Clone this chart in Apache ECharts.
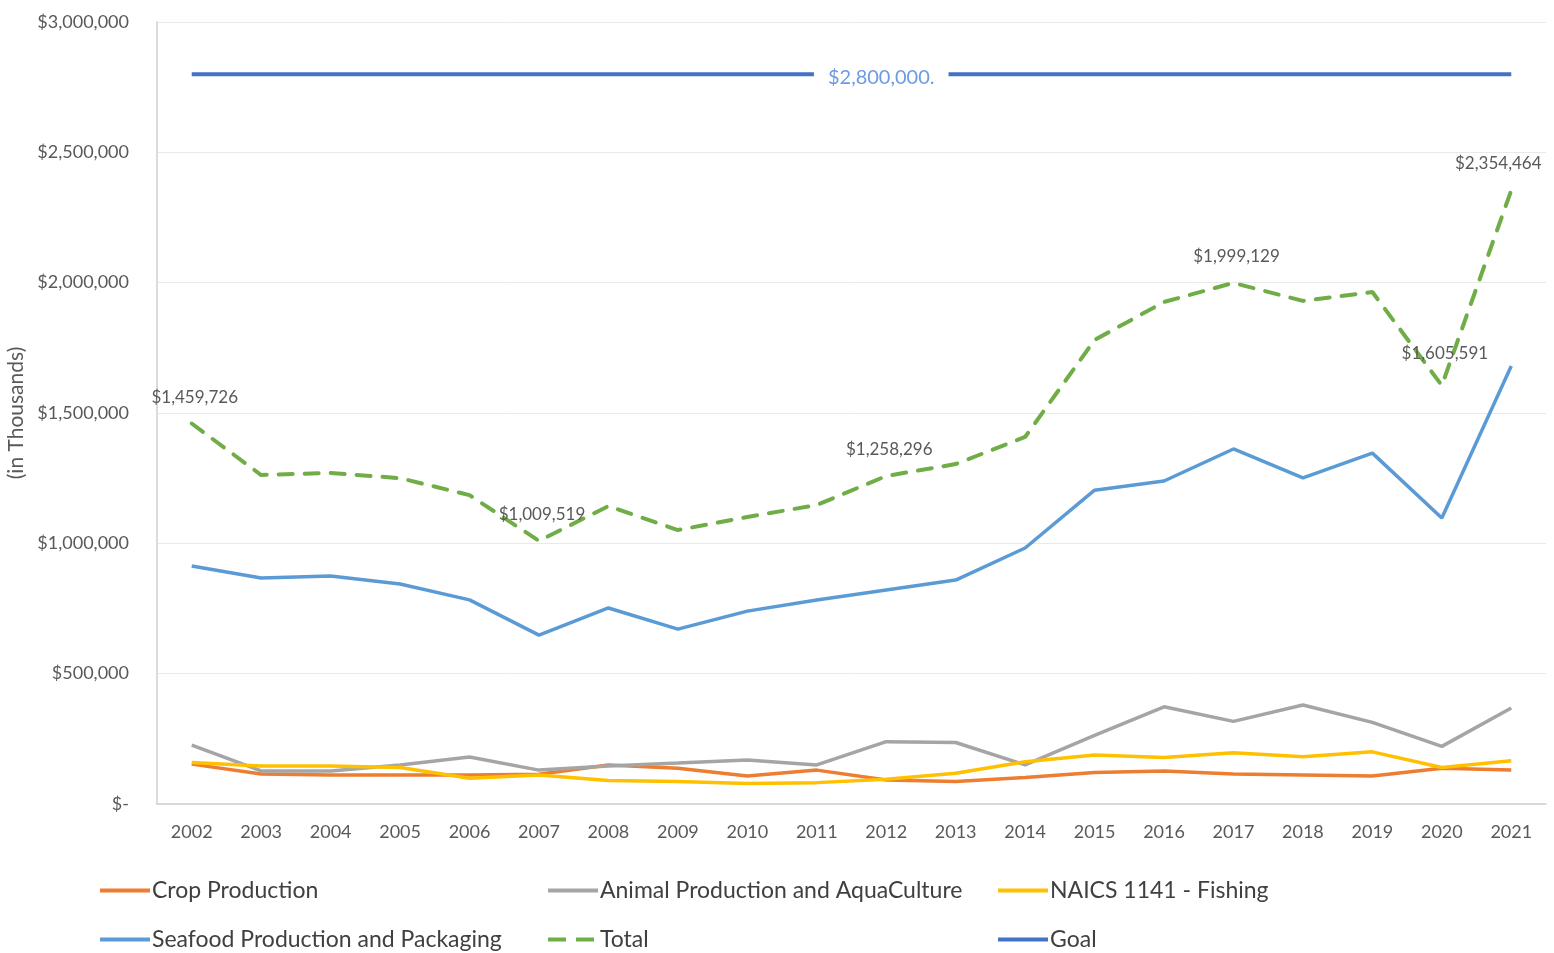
<!DOCTYPE html>
<html>
<head>
<meta charset="utf-8">
<script src="https://cdn.jsdelivr.net/npm/echarts@6/dist/echarts.min.js"></script>
<style>
  html, body { margin: 0; padding: 0; background: #fff; }
  #chart { width: 1554px; height: 953px; }
</style>
</head>
<body>
<div id="chart"></div>
<script>
const years = ['2002', '2003', '2004', '2005', '2006', '2007', '2008', '2009', '2010', '2011',
  '2012', '2013', '2014', '2015', '2016', '2017', '2018', '2019', '2020', '2021'];

const cropProduction = [153000, 115000, 111000, 111000, 111000, 114000, 150000, 137000, 107000, 130000,
  92000, 86000, 102000, 121000, 127000, 115000, 111000, 107000, 137000, 130000];
const animalProduction = [226000, 127000, 127000, 150000, 180000, 130000, 146000, 157000, 169000, 150000,
  239000, 236000, 150000, 263000, 373000, 317000, 380000, 313000, 221000, 368000];
const fishing = [159000, 146000, 146000, 140000, 99000, 111000, 90000, 86000, 79000, 82000,
  95000, 118000, 162000, 188000, 178000, 197000, 181000, 200000, 140000, 166000];
const seafood = [913000, 867000, 875000, 844000, 783000, 648000, 752000, 671000, 740000, 783000,
  821000, 859000, 982000, 1204000, 1239000, 1362000, 1251000, 1346000, 1097000, 1680000];
const total = [1459726, 1262000, 1270000, 1250000, 1185000, 1009519, 1143000, 1051000, 1101000, 1147000,
  1258296, 1304000, 1408000, 1780000, 1926000, 1999129, 1930000, 1964000, 1605591, 2354464];
const goal = [2800000, 2800000, 2800000, 2800000, 2800000, 2800000, 2800000, 2800000, 2800000, 2800000,
  2800000, 2800000, 2800000, 2800000, 2800000, 2800000, 2800000, 2800000, 2800000, 2800000];

// Total points that carry a value label
const labelledTotal = [0, 5, 10, 15, 18, 19];
const goalLabelIndex = 10;

const FONT = 'Lato, "Open Sans", sans-serif';
const textGray = '#595959';

function money(v) {
  return '$' + v.toLocaleString('en-US');
}

const myChart = echarts.init(document.getElementById('chart'));

// value labels on the dashed Total line
const totalMarks = labelledTotal.map((i) => ({
  coord: [i, total[i]],
  value: total[i],
  label: {
    offset: i === 19 ? [-13, -27] : [3, i === 18 ? -32 : -26]
  }
}));

const goalMark = {
  coord: [goalLabelIndex, goal[goalLabelIndex]],
  value: goal[goalLabelIndex]
};

const solidIcon = 'path://M0,0H50V4H0Z';
const dashIcon = 'path://M0,0H18V4H0Z M28,0H46V4H28Z M46,0H50V0H46Z';

function legendAt(name, left, top, icon) {
  return {
    data: [{ name: name, icon: icon || solidIcon }],
    left: left,
    top: top,
    padding: 0,
    itemWidth: 50,
    itemHeight: 4,
    itemGap: 0,
    textStyle: { fontSize: 23, color: '#404040', fontFamily: FONT, padding: [0, 0, 0, -3] }
  };
}

const option = {
  animation: false,
  backgroundColor: '#fff',
  grid: { left: 157, right: 8, top: 22, bottom: 149, outerBoundsMode: 'none' },
  legend: [
    legendAt('Crop Production', 100, 879),
    legendAt('Animal Production and AquaCulture', 548, 879),
    legendAt('NAICS 1141 - Fishing', 998, 879),
    legendAt('Seafood Production and Packaging', 100, 928),
    legendAt('Total', 548, 928, dashIcon),
    legendAt('Goal', 998, 928)
  ],
  xAxis: {
    type: 'category',
    data: years,
    boundaryGap: true,
    axisLine: { show: true, lineStyle: { color: '#d0d0d0', width: 1.5 } },
    axisTick: { show: false },
    axisLabel: { color: textGray, fontSize: 18, fontFamily: FONT, margin: 19 }
  },
  yAxis: {
    type: 'value',
    min: 0,
    max: 3000000,
    interval: 500000,
    name: '(in Thousands)',
    nameLocation: 'middle',
    nameRotate: 90,
    nameGap: 129,
    nameTextStyle: { color: textGray, fontSize: 21, fontFamily: FONT },
    axisLine: { show: true, lineStyle: { color: '#d0d0d0', width: 1.5 } },
    axisTick: { show: false },
    splitLine: { lineStyle: { color: '#e9e9e9', width: 1 } },
    axisLabel: {
      color: textGray,
      fontSize: 18,
      fontFamily: FONT,
      margin: 28,
      formatter: (v) => v === 0 ? '$-' : money(v)
    }
  },
  series: [
    {
      name: 'Crop Production',
      type: 'line',
      data: cropProduction,
      symbol: 'none',
      color: '#ED7D31',
      lineStyle: { width: 3.5, color: '#ED7D31' }
    },
    {
      name: 'Animal Production and AquaCulture',
      type: 'line',
      data: animalProduction,
      symbol: 'none',
      color: '#A5A5A5',
      lineStyle: { width: 3.5, color: '#A5A5A5' }
    },
    {
      name: 'NAICS 1141 - Fishing',
      type: 'line',
      data: fishing,
      symbol: 'none',
      color: '#FFC000',
      lineStyle: { width: 3.5, color: '#FFC000' }
    },
    {
      name: 'Seafood Production and Packaging',
      type: 'line',
      data: seafood,
      symbol: 'none',
      color: '#5B9BD5',
      lineStyle: { width: 3.5, color: '#5B9BD5' }
    },
    {
      name: 'Total',
      type: 'line',
      data: total,
      symbol: 'none',
      color: '#70AD47',
      lineStyle: { width: 4, color: '#70AD47', type: [14, 12], cap: 'round' },
      markPoint: {
        symbol: 'circle',
        symbolSize: 0,
        silent: true,
        label: {
          show: true,
          position: 'inside',
          formatter: (p) => money(p.value),
          color: textGray,
          fontSize: 17,
          fontFamily: FONT
        },
        data: totalMarks
      }
    },
    {
      name: 'Goal',
      type: 'line',
      data: goal,
      symbol: 'none',
      color: '#4472C4',
      lineStyle: { width: 4, color: '#4472C4' },
      z: 3,
      markPoint: {
        symbol: 'circle',
        symbolSize: 0,
        silent: true,
        z: 10,
        label: {
          show: true,
          position: 'inside',
          offset: [-5, 3],
          formatter: (p) => money(p.value) + '.',
          color: '#6d9be3',
          fontSize: 20,
          fontFamily: FONT,
          backgroundColor: '#fff',
          padding: [4, 14]
        },
        data: [goalMark]
      }
    }
  ]
};

myChart.setOption(option);
</script>
</body>
</html>
